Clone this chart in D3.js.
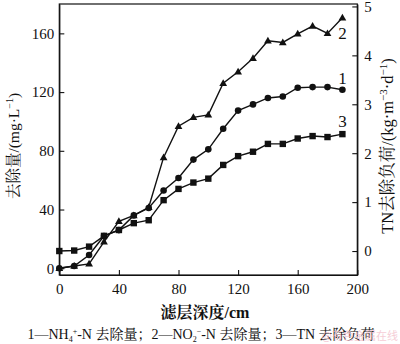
<!DOCTYPE html>
<html>
<head>
<meta charset="utf-8">
<script src="https://cdn.jsdelivr.net/npm/d3@7"></script>
<style>
  html, body { margin: 0; padding: 0; background: #fff; }
  svg { display: block; }
  .tick text { font-family: "Liberation Serif", "Times New Roman", serif; font-size: 15px; fill: #111; }
</style>
</head>
<body>
<svg id="chart" width="400" height="344"></svg>
<script>
// Filter depth (cm) at each sampling point
const depth = [0, 10, 20, 30, 40, 50, 60, 70, 80, 90, 100, 110, 120, 130, 140, 150, 160, 170, 180, 190];
// 1 — NH4+-N removal (mg/L)
const nh4Removal = [0, 1.5, 9, 22, 26, 36, 41, 53, 61.5, 74, 81, 95, 107.4, 111.6, 116, 117, 123, 123.4, 123.4, 121.6];
// 2 — NO2--N removal (mg/L)
const no2Removal = [0, 1.5, 3, 18, 32, 36, 41.5, 75.5, 96.8, 102.8, 104.5, 126, 133.8, 143, 155, 153.8, 159.7, 165, 160, 170.6];
// 3 — TN removal load (kg/(m3·d))
const tnLoad = [0, 0.01, 0.09, 0.31, 0.43, 0.57, 0.63, 1.04, 1.27, 1.40, 1.48, 1.76, 1.94, 2.03, 2.19, 2.19, 2.30, 2.35, 2.33, 2.39];

const xTicks = [0, 40, 80, 120, 160, 200];
const leftTicks = [0, 40, 80, 120, 160];
const rightTicks = [0, 1, 2, 3, 4, 5];

const svg = d3.select("#chart");
const L = 59.3, R = 357.3, T = 4, B = 275;

const x = d3.scaleLinear().domain([0, 200]).range([L, R]);
const yL = d3.scaleLinear().domain([-4.6, 180]).range([B, T]);
const yR = d3.scaleLinear().domain([-0.49, 5.05]).range([B, T]);

// Plot frame
svg.append("rect")
  .attr("x", L).attr("y", T).attr("width", R - L).attr("height", B - T)
  .attr("fill", "none").attr("stroke", "#111").attr("stroke-width", 1.2);

// Axes with inward ticks
const gx = svg.append("g").attr("transform", `translate(0,${B})`)
  .call(d3.axisBottom(x).tickValues(xTicks).tickFormat(d3.format("d")).tickSizeInner(-5).tickSizeOuter(0).tickPadding(8));
const gl = svg.append("g").attr("transform", `translate(${L},0)`)
  .call(d3.axisLeft(yL).tickValues(leftTicks).tickFormat(d3.format("d")).tickSizeInner(-5).tickSizeOuter(0).tickPadding(5));
const gr = svg.append("g").attr("transform", `translate(${R},0)`)
  .call(d3.axisRight(yR).tickValues(rightTicks).tickFormat(d3.format("d")).tickSizeInner(-5).tickSizeOuter(0).tickPadding(7));
[gx, gl, gr].forEach(g => {
  g.select(".domain").attr("stroke", "#111").attr("stroke-width", 1.2);
  g.selectAll(".tick line").attr("stroke", "#111").attr("stroke-width", 1.1);
});

const lineL = (vals) => d3.line().x((d, i) => x(depth[i])).y(d => yL(d))(vals);
const lineR = (vals) => d3.line().x((d, i) => x(depth[i])).y(d => yR(d))(vals);

const lineStyle = sel => sel.attr("fill", "none").attr("stroke", "#111").attr("stroke-width", 1.4);

// Series 2: triangles
svg.append("path").attr("d", lineL(no2Removal)).call(lineStyle);
svg.append("g").selectAll("path").data(no2Removal).join("path")
  .attr("d", d3.symbol(d3.symbolTriangle, 26))
  .attr("transform", (d, i) => `translate(${x(depth[i])},${yL(d) + 0.5})`)
  .attr("fill", "#111");

// Series 3: squares (right axis)
svg.append("path").attr("d", lineR(tnLoad)).call(lineStyle);
svg.append("g").selectAll("rect").data(tnLoad).join("rect")
  .attr("x", (d, i) => x(depth[i]) - 3.2).attr("y", d => yR(d) - 3.2)
  .attr("width", 6.4).attr("height", 6.4).attr("fill", "#111");

// Series 1: circles
svg.append("path").attr("d", lineL(nh4Removal)).call(lineStyle);
svg.append("g").selectAll("circle").data(nh4Removal).join("circle")
  .attr("cx", (d, i) => x(depth[i])).attr("cy", d => yL(d))
  .attr("r", 3.3).attr("fill", "#111");

// Series number labels next to each curve's last point
const serif = "'Liberation Serif', 'Times New Roman', serif";
const last = depth.length - 1;
[["1", yL(nh4Removal[last]) - 6], ["2", yL(no2Removal[last]) + 21], ["3", yR(tnLoad[last]) - 7]].forEach(([t, yy]) => {
  svg.append("text").attr("x", x(depth[last])).attr("y", yy).attr("text-anchor", "middle")
    .attr("font-family", serif).attr("font-size", 17).attr("fill", "#111").text(t);
});

// Axis titles
const cjk = "'Liberation Serif', 'Noto Serif CJK SC', 'Noto Sans CJK SC', serif";
const lt = svg.append("text")
  .attr("transform", "translate(19,146) rotate(-90)")
  .attr("text-anchor", "middle").attr("font-family", cjk).attr("font-size", 15.5).attr("fill", "#111");
lt.append("tspan").text("去除量/(mg·L");
lt.append("tspan").attr("dy", -6).attr("font-size", 10).text("−1");
lt.append("tspan").attr("dy", 6).text(")");

const rt = svg.append("text")
  .attr("transform", "translate(393,146) rotate(-90)")
  .attr("text-anchor", "middle").attr("font-family", cjk).attr("font-size", 16.5).attr("fill", "#111");
rt.append("tspan").text("TN去除负荷/(kg·m");
rt.append("tspan").attr("dy", -6).attr("font-size", 11).text("−3");
rt.append("tspan").attr("dy", 6).text("·d");
rt.append("tspan").attr("dy", -6).attr("font-size", 11).text("−1");
rt.append("tspan").attr("dy", 6).text(")");

svg.append("text").attr("x", 205).attr("y", 318).attr("text-anchor", "middle")
  .attr("font-family", cjk).attr("font-size", 16).attr("font-weight", "bold").attr("fill", "#111")
  .text("滤层深度/cm");

// Legend caption
const cap = svg.append("text").attr("x", 201).attr("y", 339).attr("text-anchor", "middle")
  .attr("font-family", cjk).attr("font-size", 14).attr("fill", "#111");
cap.append("tspan").text("1—NH");
cap.append("tspan").attr("dy", 3).attr("font-size", 8).text("4");
cap.append("tspan").attr("dy", -8).attr("font-size", 8).text("+");
cap.append("tspan").attr("dy", 5).text("-N 去除量；2—NO");
cap.append("tspan").attr("dy", 3).attr("font-size", 8).text("2");
cap.append("tspan").attr("dy", -8).attr("font-size", 8).text("−");
cap.append("tspan").attr("dy", 5).text("-N 去除量；3—TN 去除负荷");

// Faint source mark
svg.append("text").attr("x", 398).attr("y", 340).attr("text-anchor", "end")
  .attr("font-family", "'Noto Sans CJK SC', sans-serif").attr("font-size", 11)
  .attr("fill", "#f2b8c6").attr("opacity", 0.7).text("@有色金属在线");
</script>
</body>
</html>
